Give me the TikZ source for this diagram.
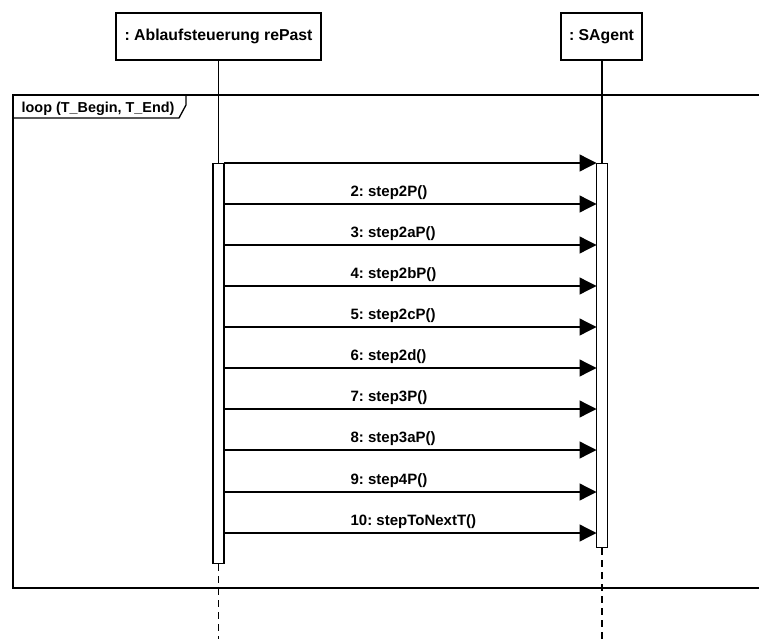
\documentclass[tikz,border=0pt]{standalone}
\usepackage{fontspec}
\setmainfont{Liberation Sans}
\usetikzlibrary{arrows.meta}
\frenchspacing
\begin{document}
\begin{tikzpicture}[x=1pt,y=-1pt, line width=1.3pt,
  head/.style={draw, fill=white, font=\bfseries\fontsize{15.8}{18}\selectfont, minimum height=47pt, inner sep=0pt},
  act/.style={draw, fill=white, minimum width=11pt, inner sep=0pt, anchor=north},
  msg/.style={-{Triangle[length=17pt,width=17pt]}},
  lbl/.style={font=\bfseries\fontsize{15}{17}\selectfont, anchor=base west, inner sep=0pt},
  dline/.style={dash pattern=on 7pt off 5pt}]
\useasboundingbox (0,0) rectangle (759,639);
% loop frame
\draw (759,95) -- (13,95) -- (13,588) -- (759,588);
\draw (13,118) -- (179,118) -- (186,105) -- (186,95);
\node[lbl, font=\bfseries\fontsize{14.4}{17}\selectfont] (looplbl) at (21,113) {loop (T\_Begin, T\_End)};
% headers
\node[head, minimum width=205pt] (A) at (218.5,36.5) {: Ablaufsteuerung rePast};
\node[head, minimum width=81pt] (S) at (601.5,36.5) {: SAgent};
% activations
\node[act, minimum height=400pt] (actA) at (218.5,163) {};
\node[act, minimum height=384pt] (actS) at (602,163) {};
\coordinate (Abot) at (218.5,639);
\coordinate (Sbot) at (602,639);
\coordinate (Stop) at (602,60);
\draw (A.south) -- (actA.north);
\draw (Stop) -- (actS.north);
\draw[dline] (actA.south) -- (Abot);
\draw[dline] (actS.south) -- (Sbot);
% messages
\coordinate (s0) at (224,163);
\coordinate (e0) at (596.5,163);
\draw[msg] (s0) -- (e0);
\foreach [count=\k] \y/\t in {204/2: step2P(), 245/3: step2aP(), 286/4: step2bP(), 327/5: step2cP(), 368/6: step2d(), 409/7: step3P(), 450/8: step3aP(), 492/9: step4P(), 533/10: stepToNextT()} {
  \coordinate (s\k) at (224,\y);
  \coordinate (e\k) at (596.5,\y);
  \draw[msg] (s\k) -- (e\k);
  \node[lbl] (l\k) at (350,\y-8) {\t};
}
\end{tikzpicture}
\end{document}
